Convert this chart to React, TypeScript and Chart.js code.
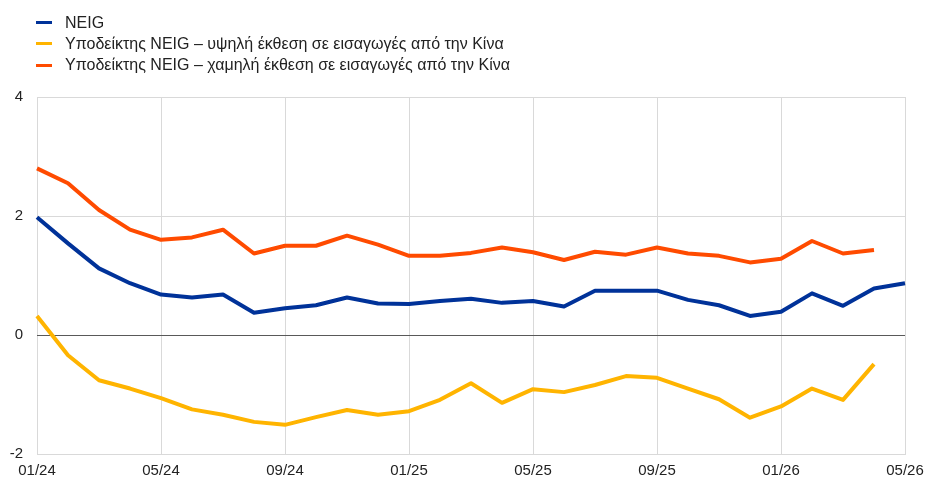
import React, { useEffect, useRef } from "react";
import { Chart, registerables } from "chart.js";

Chart.register(...registerables);

const months: string[] = [
  "01/24", "02/24", "03/24", "04/24", "05/24", "06/24", "07/24", "08/24",
  "09/24", "10/24", "11/24", "12/24", "01/25", "02/25", "03/25", "04/25",
  "05/25", "06/25", "07/25", "08/25", "09/25", "10/25", "11/25", "12/25",
  "01/26", "02/26", "03/26", "04/26", "05/26",
];

const neig: number[] = [
  1.98, 1.54, 1.12, 0.87, 0.68, 0.63, 0.68, 0.375, 0.45, 0.5, 0.63, 0.53,
  0.52, 0.57, 0.61, 0.54, 0.57, 0.48, 0.745, 0.745, 0.745, 0.59, 0.5, 0.32,
  0.39, 0.7, 0.49, 0.78, 0.87,
];

const highChina: number[] = [
  0.32, -0.34, -0.76, -0.9, -1.06, -1.25, -1.34, -1.46, -1.51, -1.38, -1.26,
  -1.34, -1.28, -1.09, -0.81, -1.14, -0.91, -0.96, -0.84, -0.69, -0.72, -0.9,
  -1.08, -1.39, -1.2, -0.9, -1.09, -0.49,
];

const lowChina: number[] = [
  2.8, 2.55, 2.1, 1.77, 1.6, 1.64, 1.77, 1.37, 1.5, 1.5, 1.67, 1.52, 1.33,
  1.33, 1.38, 1.47, 1.39, 1.26, 1.4, 1.35, 1.47, 1.37, 1.33, 1.22, 1.28, 1.58,
  1.37, 1.43,
];

const seriesNames: string[] = [
  "NEIG",
  "Υποδείκτης NEIG – υψηλή έκθεση σε εισαγωγές από την Κίνα",
  "Υποδείκτης NEIG – χαμηλή έκθεση σε εισαγωγές από την Κίνα",
];
const seriesColors: string[] = ["#003299", "#FFB400", "#FF4B00"];

const FONT = "'Liberation Sans', Arial, sans-serif";

export default function App() {
  const ref = useRef<HTMLCanvasElement | null>(null);

  useEffect(() => {
    if (!ref.current) return;
    const chart = new Chart(ref.current, {
      type: "line",
      data: {
        labels: months,
        datasets: [
          { label: seriesNames[0], data: neig, borderColor: seriesColors[0] },
          { label: seriesNames[1], data: highChina, borderColor: seriesColors[1] },
          { label: seriesNames[2], data: lowChina, borderColor: seriesColors[2] },
        ].map((d) => ({
          ...d,
          backgroundColor: d.borderColor,
          borderWidth: 4,
          pointRadius: 0,
          tension: 0,
          borderJoinStyle: "round" as const,
          fill: false,
        })),
      },
      options: {
        animation: false,
        responsive: false,
        layout: { padding: { top: 97, right: 21, left: 0, bottom: 0 } },
        plugins: {
          legend: { display: false },
          tooltip: { enabled: false },
        },
        scales: {
          x: {
            type: "category",
            offset: false,
            border: { display: true, color: "#d9d9d9" },
            grid: {
              drawTicks: false,
              color: (c: any) => (c.index % 4 === 0 ? "#d9d9d9" : "rgba(0,0,0,0)"),
              lineWidth: 1,
            },
            ticks: {
              autoSkip: false,
              maxRotation: 0,
              padding: 8,
              color: "#222",
              font: { family: FONT, size: 15 },
              callback: function (this: any, value: any, index: number) {
                return index % 4 === 0 ? months[index] : "";
              },
            },
            afterFit: (s: any) => {
              s.height = 28;
              s.paddingRight = 0;
              s.paddingLeft = 0;
            },
          },
          y: {
            min: -2,
            max: 4,
            border: { display: false },
            grid: {
              drawTicks: false,
              color: (c: any) => (c.tick && c.tick.value === 0 ? "#595959" : "#d9d9d9"),
              lineWidth: 1,
            },
            ticks: {
              stepSize: 2,
              padding: 14,
              color: "#222",
              font: { family: FONT, size: 15 },
            },
            afterFit: (s: any) => {
              s.width = 37;
              s.paddingTop = 0;
              s.paddingBottom = 0;
            },
          },
        },
      },
    });
    return () => chart.destroy();
  }, []);

  return (
    <div style={{ position: "fixed", left: 0, top: 0, width: 926, height: 482, background: "#fff" }}>
      <canvas ref={ref} width={926} height={482} style={{ display: "block" }} />
      <div style={{ position: "absolute", left: 36, top: 12, fontFamily: FONT, fontSize: 16, color: "#222" }}>
        {seriesNames.map((n, i) => (
          <div key={n} style={{ display: "flex", alignItems: "center", height: 21.3 }}>
            <span style={{ display: "inline-block", width: 16, height: 3, background: seriesColors[i], marginRight: 13 }} />
            <span>{n}</span>
          </div>
        ))}
      </div>
    </div>
  );
}
